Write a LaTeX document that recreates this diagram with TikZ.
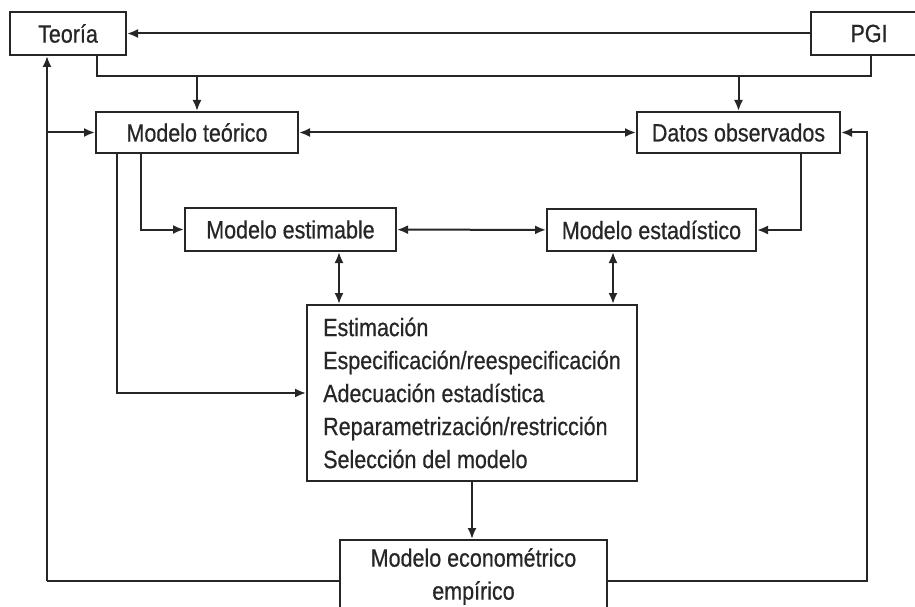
\documentclass[tikz,border=0pt]{standalone}
\usepackage{fontspec}
\setmainfont[FakeStretch=0.86,FakeBold=0.6]{Liberation Sans}
\usetikzlibrary{arrows.meta}
\definecolor{ink}{HTML}{262626}
\begin{document}
\begin{tikzpicture}[x=1pt,y=-1pt,
  box/.style={draw=ink, line width=2pt, inner sep=0pt, text=ink, font=\fontsize{25}{33}\selectfont},
  label/.style={text=ink, inner sep=0pt, font=\fontsize{25}{33}\selectfont},
  conn/.style={draw=ink, line width=2pt, -{Latex[length=11pt,width=9pt]}},
  dconn/.style={draw=ink, line width=2pt, {Latex[length=11pt,width=9pt]}-{Latex[length=11pt,width=9pt]}},
  plain/.style={draw=ink, line width=2pt}]
\useasboundingbox (0,0) rectangle (915,607);
\node[box, minimum width=116pt, minimum height=43pt] (teoria) at (68,33.5) {Teoría};
\node[box, minimum width=116pt, minimum height=43pt] (pgi) at (869,33.5) {PGI};
\node[box, minimum width=202pt, minimum height=41pt] (mt) at (197,132.5) {Modelo teórico};
\node[box, minimum width=203pt, minimum height=41pt] (dob) at (738.5,132.5) {Datos observados};
\node[box, minimum width=211pt, minimum height=43pt] (mest) at (290.5,229.5) {Modelo estimable};
\node[box, minimum width=209pt, minimum height=42pt] (mestad) at (651.5,230) {Modelo estadístico};
\node[box, align=left, minimum width=330pt, minimum height=176pt] (est) at (472,393)
  {Estimación\\Especificación/reespecificación\\Adecuación estadística\\Reparametrización/restricción\\Selección del modelo};
\node[box, minimum width=267pt, minimum height=101pt, anchor=north] (econ) at (473.5,539) {};
\node[label, align=center] (econtxt) at (473.5,576.5) {Modelo econométrico\\empírico};

\coordinate (tl) at (97,76);
\coordinate (tr) at (871,76);
\coordinate (bl) at (47,581);
\coordinate (br) at (867,581);

% top distribution line
\draw[plain] (teoria.south -| tl) -- (tl) -- (tr) -- (pgi.south -| tr);
\draw[conn] (pgi) -- (teoria);
\draw[conn] (tl -| mt.north) -- (mt.north);
\draw[conn] (tl -| dob.north) -- (dob.north);
\draw[dconn] (mt) -- (dob);

% feedback loops
\draw[plain] (econ.west |- bl) -- (bl);
\draw[conn] (bl) -- (bl |- teoria.south);
\draw[conn] (bl |- mt) -- (mt.west);
\draw[conn] (econ.east |- br) -- (br) |- (dob.east);

% middle connections
\draw[conn] ([xshift=22pt]mt.south west) |- (est.west);
\draw[conn] ([xshift=46pt]mt.south west) |- (mest.west);
\draw[conn] ([xshift=165pt]dob.south west) |- (mestad.east);
\draw[dconn] (mest) -- (mestad);
\draw[dconn] ([xshift=48.5pt]mest.south) -- ([xshift=48.5pt]mest.south |- est.north);
\draw[dconn] ([xshift=-38.5pt]mestad.south) -- ([xshift=-38.5pt]mestad.south |- est.north);
\draw[conn] (est.south) -- (est.south |- econ.north);
\end{tikzpicture}
\end{document}
